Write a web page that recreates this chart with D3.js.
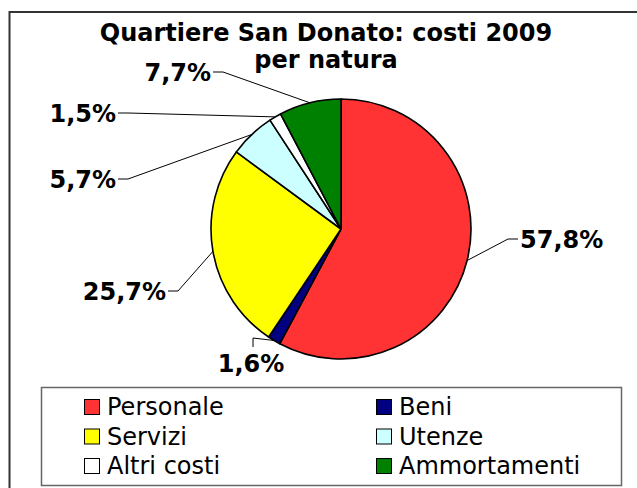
<!DOCTYPE html>
<html>
<head>
<meta charset="utf-8">
<script src="https://cdn.jsdelivr.net/npm/d3@7"></script>
<style>
  body { margin: 0; background: #fff; }
  svg { display: block; font-family: "DejaVu Sans", Verdana, sans-serif; }
</style>
</head>
<body>
<svg id="chart" width="637" height="488"></svg>
<script>
// data
var categories = ['Personale', 'Beni', 'Servizi', 'Utenze', 'Altri costi', 'Ammortamenti'];
var values = [57.8, 1.6, 25.7, 5.7, 1.5, 7.7];
var valueLabels = ['57,8%', '1,6%', '25,7%', '5,7%', '1,5%', '7,7%'];
var colors = ['#ff3333', '#000080', '#ffff00', '#ccffff', '#ffffff', '#008000'];
var titleLines = ['Quartiere San Donato: costi 2009', 'per natura'];

// layout: where each leader line bends, relative to pie centre
var labelBend = [[167, 10, 'right'], [-88, 109, 'below'], [-163, 62, 'left'],
                 [-213, -50, 'left'], [-213, -116, 'left'], [-118, -157, 'left']];

var width = 637, height = 488,
    cx = 341, cy = 229, radius = 130;

var svg = d3.select('#chart');

// outer frame
svg.append('rect')
   .attr('x', 9.5).attr('y', 12)
   .attr('width', 700).attr('height', 600)
   .attr('fill', '#fff')
   .attr('stroke', '#333')
   .attr('stroke-width', 2);

svg.selectAll('.title')
   .data(titleLines)
   .enter()
   .append('text')
   .attr('class', 'title')
   .attr('x', 326)
   .attr('y', (d, i) => 41 + i * 27)
   .attr('text-anchor', 'middle')
   .style('font-size', '24px')
   .style('font-weight', 'bold')
   .text(d => d);

var pie = d3.pie().sort(null).value(d => d)(values);
var arc = d3.arc().innerRadius(0).outerRadius(radius);

var g = svg.append('g')
   .attr('transform', 'translate(' + cx + ',' + cy + ')');

g.selectAll('path.slice')
 .data(pie)
 .enter()
 .append('path')
 .attr('class', 'slice')
 .attr('d', arc)
 .attr('fill', (d, i) => colors[i])
 .attr('stroke', '#000')
 .attr('stroke-width', 1.6)
 .attr('stroke-linejoin', 'round');

// leader lines + labels
pie.forEach(function (d, i) {
  var mid = (d.startAngle + d.endAngle) / 2;
  var p = [Math.sin(mid) * radius, -Math.cos(mid) * radius];
  var b = labelBend[i];
  var pts, tx, ty, anchor;
  if (b[2] === 'right') {
    pts = [p, [b[0], b[1]], [b[0] + 10, b[1]]];
    tx = b[0] + 12; ty = b[1] + 9; anchor = 'start';
  } else if (b[2] === 'left') {
    pts = [p, [b[0], b[1]], [b[0] - 10, b[1]]];
    tx = b[0] - 12; ty = b[1] + 9; anchor = 'end';
  } else {
    pts = [p, [b[0], b[1]], [b[0], b[1] + 9]];
    tx = b[0] - 2; ty = b[1] + 34; anchor = 'middle';
  }
  g.append('path')
   .attr('d', d3.line()(pts))
   .attr('fill', 'none')
   .attr('stroke', '#000')
   .attr('stroke-width', 1);
  g.append('text')
   .attr('x', tx).attr('y', ty)
   .attr('text-anchor', anchor)
   .style('font-size', '24px')
   .style('font-weight', 'bold')
   .text(valueLabels[i]);
});

// legend
svg.append('rect')
   .attr('x', 41.5).attr('y', 387.5)
   .attr('width', 580).attr('height', 98)
   .attr('fill', '#fff')
   .attr('stroke', '#666')
   .attr('stroke-width', 1.5);

var legend = svg.selectAll('.legend-item')
   .data(categories)
   .enter()
   .append('g')
   .attr('class', 'legend-item')
   .attr('transform', (d, i) => 'translate(' + (84 + (i % 2) * 292) + ',' + (399 + Math.floor(i / 2) * 29.5) + ')');

legend.append('rect')
   .attr('x', 0.5).attr('y', 0.5)
   .attr('width', 15).attr('height', 15)
   .attr('fill', (d, i) => colors[i])
   .attr('stroke', '#000')
   .attr('stroke-width', 1);

legend.append('text')
   .attr('x', 23)
   .attr('y', 16)
   .style('font-size', '24px')
   .text(d => d);
</script>
</body>
</html>
